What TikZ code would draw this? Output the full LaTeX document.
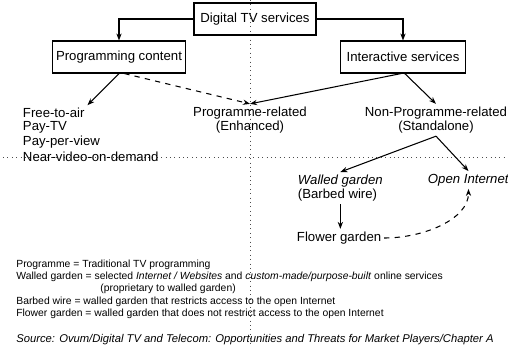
\documentclass[tikz,border=0pt]{standalone}
\usepackage{fontspec}
\setmainfont{Liberation Sans}
\usetikzlibrary{positioning,arrows.meta}

\begin{document}
\begin{tikzpicture}[x=0.02cm,y=-0.02cm,
    box/.style={draw,line width=0.6pt,minimum height=0.64cm,inner sep=2pt,font=\fontsize{7.5}{9}\selectfont},
    lbl/.style={font=\fontsize{7.5}{8}\selectfont,inner sep=1.5pt},
    note/.style={anchor=west,font=\fontsize{5.9}{7}\selectfont,inner sep=0pt},
    arr/.style={-{Stealth[length=4pt,width=3pt]},line width=0.6pt},
    guide/.style={dotted,line width=0.5pt,black!70}]

    \useasboundingbox (0,0) rectangle (508,353);

    % dotted guides
    \draw[guide] (3,157) -- (508,157);
    \draw[guide] (250,0) -- (250,345);

    % boxes
    \node[box,minimum width=2.44cm] (dtv) at (255,19) {Digital TV services};
    \node[box,minimum width=2.56cm] (prog) at (119,57) {Programming content};
    \node[box,minimum width=2.5cm] (inter) at (403,57) {Interactive services};

    \draw[arr] (dtv.west) -| (prog.north);
    \draw[arr] (dtv.east) -| (inter.north);

    % programming content
    \node[lbl,anchor=west] (fta) at (20,113) {Free-to-air};
    \node[lbl,anchor=west] (paytv) at (20,127) {Pay-TV};
    \node[lbl,anchor=west] (ppv) at (20,142) {Pay-per-view};
    \node[lbl,anchor=west] (nvod) at (20,157) {Near-video-on-demand};

    % interactive services
    \node[lbl,align=center] (enh) at (250,120) {Programme-related\\(Enhanced)};
    \node[lbl,align=center] (npr) at (436,120) {Non-Programme-related\\(Standalone)};
    \node[lbl,align=left,anchor=north west] (walled) at (295,172) {\textit{Walled garden}\\(Barbed wire)};
    \node[lbl,anchor=west] (inet) at (425,180) {\textit{Open Internet}};
    \node[lbl,anchor=west] (flower) at (294,238) {Flower garden};

    \draw[arr] (prog.south) -- (fta.north east);
    \draw[arr,dashed] ([xshift=3pt]prog.south) -- (enh.north);
    \draw[arr] ([xshift=-1pt]inter.south) -- (enh.north);
    \draw[arr] ([xshift=1pt]inter.south) -- (npr.north);
    \draw[arr] (npr.south) -- (walled.north);
    \draw[arr] (npr.south) -- (inet.north);
    \draw[arr] (walled.south) -- (walled.south |- flower.north);
    \draw[arr,dashed] (flower.east) .. controls +(40,0) and +(0,30) .. (inet.south);

    % notes
    \node[note] (n1) at (16,265) {Programme = Traditional TV programming};
    \node[note] (n2) at (16,277) {Walled garden = selected \textit{Internet / Websites} and \textit{custom-made/purpose-built} online services};
    \node[note] (n3) at (100,289) {(proprietary to walled garden)};
    \node[note] (n4) at (16,302) {Barbed wire = walled garden that restricts access to the open Internet};
    \node[note] (n5) at (16,314) {Flower garden = walled garden that does not restrict access to the open Internet};
    \node[note,font=\fontsize{6.4}{7}\selectfont] (src) at (16,340) {\textit{Source: Ovum/Digital TV and Telecom: Opportunities and Threats for Market Players/Chapter A}};
\end{tikzpicture}
\end{document}
